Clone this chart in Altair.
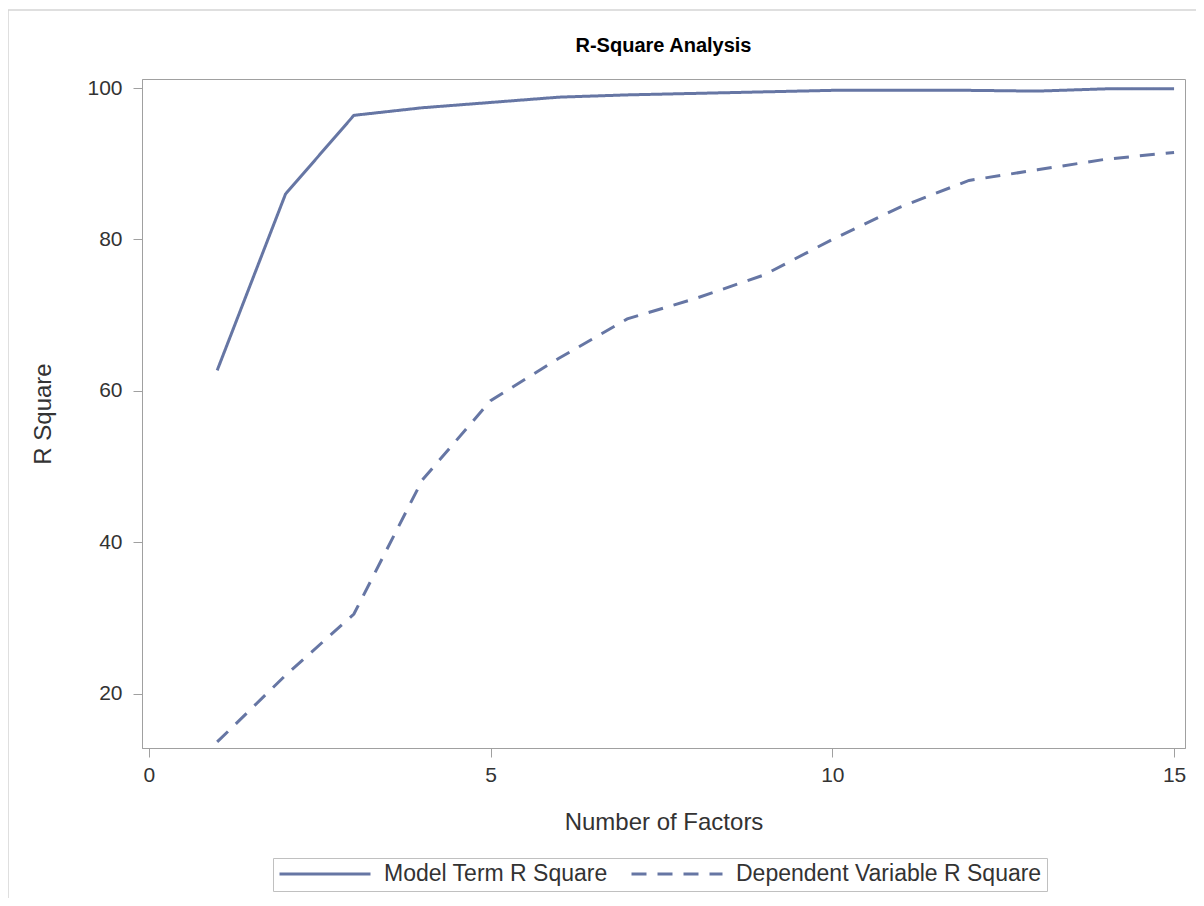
import altair as alt
import pandas as pd

factors = list(range(1, 16))
model_term_r2 = [62.7, 86.0, 96.4, 97.4, 98.1, 98.8, 99.1, 99.3, 99.5, 99.7, 99.7, 99.7, 99.6, 99.9, 99.9]
dependent_r2 = [13.6, 22.4, 30.5, 48.2, 58.7, 64.3, 69.5, 72.2, 75.3, 80.0, 84.3, 87.8, 89.2, 90.6, 91.5]
series_names = ["Model Term R Square", "Dependent Variable R Square"]
x_ticks = [0, 5, 10, 15]
y_ticks = [20, 40, 60, 80, 100]

rows = []
for f, m, d in zip(factors, model_term_r2, dependent_r2):
    rows.append({"Factors": f, "RSquare": m, "Series": series_names[0]})
    rows.append({"Factors": f, "RSquare": d, "Series": series_names[1]})
df = pd.DataFrame(rows)

LINE = "#6676A4"
FONT = "Liberation Sans"

lines = alt.Chart(df).mark_line(color=LINE, strokeWidth=3).encode(
    x=alt.X("Factors:Q",
            scale=alt.Scale(domain=[-0.1, 15.16], nice=False, zero=False),
            axis=alt.Axis(values=x_ticks, title="Number of Factors", grid=False,
                          tickSize=9, labelPadding=7, titlePadding=25,
                          labelFontSize=21, titleFontSize=24, format="d")),
    y=alt.Y("RSquare:Q",
            scale=alt.Scale(domain=[12.8, 101.2], nice=False, zero=False),
            axis=alt.Axis(values=y_ticks, title="R Square", grid=False,
                          tickSize=9, labelPadding=11, titlePadding=31,
                          labelFontSize=21, titleFontSize=24)),
    strokeDash=alt.StrokeDash("Series:N",
                              scale=alt.Scale(domain=series_names, range=[[1, 0], [15, 11]]),
                              legend=alt.Legend(title=None, orient="none", legendX=131, legendY=779,
                                                direction="horizontal", symbolType="stroke",
                                                symbolSize=8281, symbolStrokeWidth=3,
                                                symbolStrokeColor=LINE, labelFontSize=23,
                                                labelOffset=12, columnPadding=22, padding=5,
                                                clipHeight=22, labelLimit=500,
                                                strokeColor="#c0c0c0", labelColor="#333333",
                                                labelFont=FONT)),
    order="Factors:Q",
)

frame_df = pd.DataFrame({"k": [0]})
frame_v = alt.Chart(frame_df).mark_rule(color="#d4d4d4", strokeWidth=1.5).encode(
    x=alt.value(-134), y=alt.value(-69), y2=alt.value(830)
)
frame_h = alt.Chart(frame_df).mark_rule(color="#d4d4d4", strokeWidth=1.5).encode(
    x=alt.value(-134), x2=alt.value(1060), y=alt.value(-69)
)

chart = alt.layer(frame_v, frame_h, lines).properties(
    width=1043, height=669,
    title=alt.TitleParams("R-Square Analysis", fontSize=20, font=FONT, fontWeight="bold",
                          anchor="middle", frame="group", offset=-47, color="#000000"),
    autosize=alt.AutoSizeParams(type="none"),
    padding={"left": 134, "top": 71, "right": 11, "bottom": 150},
).configure_view(
    stroke="#a0a0a0", strokeWidth=1
).configure_axis(
    domainColor="#a0a0a0", tickColor="#a0a0a0", labelColor="#333333", titleColor="#333333",
    labelFont=FONT, titleFont=FONT, titleFontWeight="normal"
)

chart.save("out.html", embed_options={"renderer": "svg", "actions": False})
